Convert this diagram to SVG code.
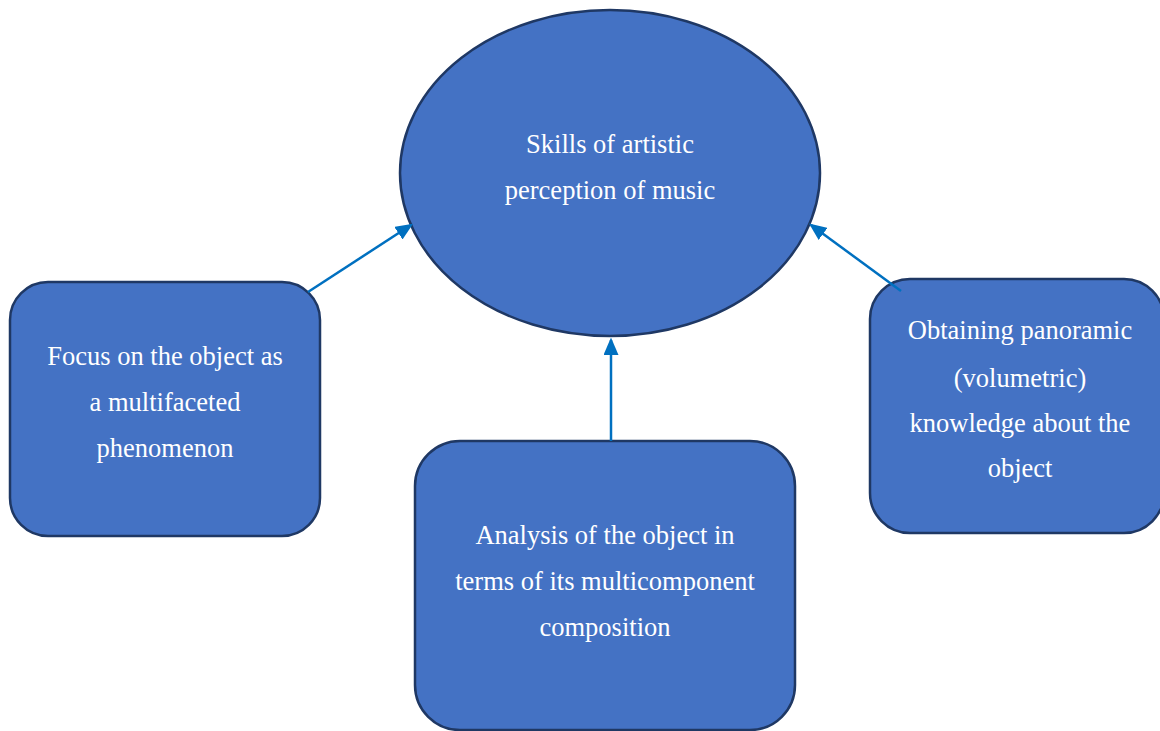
<svg xmlns="http://www.w3.org/2000/svg" width="1160" height="731" viewBox="0 0 1160 731">
<style>
.n{fill:#4472C4;stroke:#1F3864;stroke-width:2.5}
.t{font-family:"Liberation Serif","Times New Roman",serif;font-size:26.5px;fill:#fff;text-anchor:middle}
.c{stroke:#0070C0;stroke-width:2.5;fill:none;marker-end:url(#ah)}
</style>
<defs>
<marker id="ah" markerWidth="7" markerHeight="6" refX="6" refY="3" orient="auto" markerUnits="strokeWidth">
<path d="M0,0 L7,3 L0,6 Z" fill="#0070C0"/>
</marker>
</defs>
<rect width="1160" height="731" fill="#fff"/>
<g id="skills">
<ellipse class="n" cx="610" cy="173" rx="210" ry="163"/>
<text class="t" x="610" y="153">Skills of artistic</text>
<text class="t" x="610" y="199">perception of music</text>
</g>
<g id="focus">
<rect class="n" x="10" y="282" width="310" height="254" rx="38"/>
<text class="t" x="165" y="365">Focus on the object as</text>
<text class="t" x="165" y="411">a multifaceted</text>
<text class="t" x="165" y="457">phenomenon</text>
</g>
<g id="analysis">
<rect class="n" x="415" y="441" width="380" height="289" rx="45"/>
<text class="t" x="605" y="544">Analysis of the object in</text>
<text class="t" x="605" y="590">terms of its multicomponent</text>
<text class="t" x="605" y="636">composition</text>
</g>
<g id="obtaining">
<rect class="n" x="870" y="279" width="294" height="254" rx="40"/>
<text class="t" x="1020" y="339">Obtaining panoramic</text>
<text class="t" x="1020" y="387">(volumetric)</text>
<text class="t" x="1020" y="432">knowledge about the</text>
<text class="t" x="1020" y="477">object</text>
</g>
<g id="connectors">
<line class="c" x1="308" y1="292" x2="411" y2="225"/>
<line class="c" x1="901" y1="291" x2="811" y2="225"/>
<line class="c" x1="611" y1="441" x2="611" y2="340"/>
</g>
</svg>
